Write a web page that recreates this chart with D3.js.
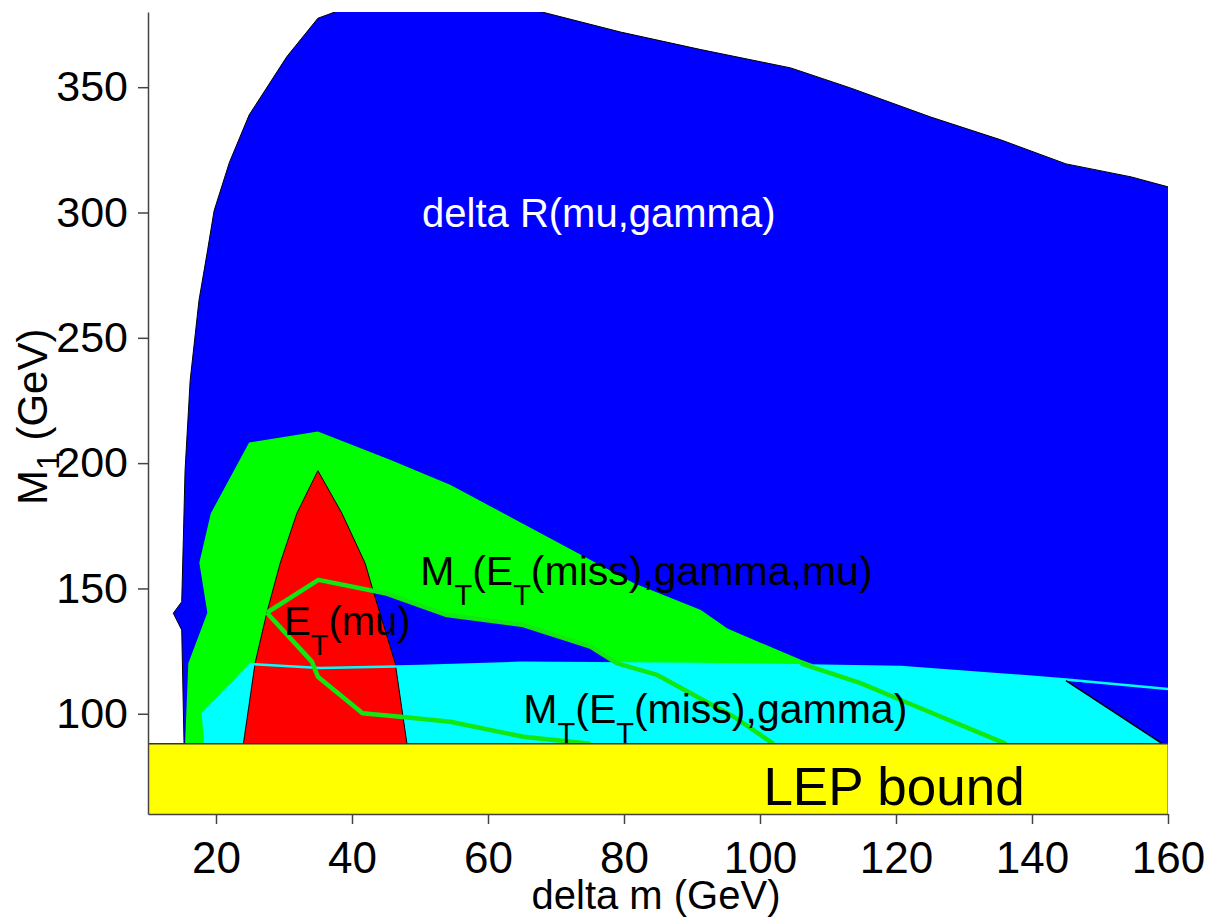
<!DOCTYPE html>
<html>
<head>
<meta charset="utf-8">
<script src="https://cdn.jsdelivr.net/npm/d3@7"></script>
<style>
  html, body { margin: 0; padding: 0; background: #fff; }
  svg { display: block; font-family: "Liberation Sans", Arial, Helvetica, sans-serif; }
</style>
</head>
<body>
<svg id="chart" width="1218" height="923"></svg>
<script>
// Sensitivity regions in the (delta m, M1) plane, in GeV
const xTicks = [20, 40, 60, 80, 100, 120, 140, 160];
const yTicks = [100, 150, 200, 250, 300, 350];
const lepBound = 88;

// delta R(mu,gamma) region
const deltaR = [
  [15.3, 88], [14.96, 133.4], [13.72, 140.1], [14.96, 144.7], [15.2, 170],
  [15.45, 197], [16.2, 233], [17.5, 265], [18.77, 285.1], [19.72, 300.7],
  [21.97, 320], [24.87, 338.9], [30.42, 362.2], [34.98, 377.5], [39.5, 382],
  [66.5, 381], [79.5, 372], [91.3, 365], [104.5, 357.7], [113.3, 349.7],
  [125.1, 338.1], [135.4, 329], [145, 319.4], [154.6, 314.2], [161, 309.5],
  [161, 88]
];

// M_T(E_T(miss),gamma,mu) region
const mtGammaMu = [
  [15.45, 88], [15.93, 120.1], [18.73, 140.3], [17.55, 160.2], [19.23, 179.9],
  [24.87, 208.2], [34.98, 212.6], [45.6, 201.3], [54.5, 191.3], [69.6, 169.3],
  [81.4, 152.2], [91.3, 141.4], [95.2, 134], [106, 121.5], [107.7, 119.9],
  [107.7, 117], [79, 117], [79, 120.1], [75.07, 126.8], [65.2, 135.4],
  [53.97, 139.4], [44.89, 148.1], [35.07, 153.4], [27.47, 140.3],
  [25.75, 120.2], [24.03, 88]
];

// M_T(E_T(miss),gamma) region
const mtGamma = [
  [18.24, 88], [17.9, 100.4], [24.87, 119.9], [35.32, 118.3], [50.04, 119.1],
  [64.76, 120.3], [91.3, 119.9], [120.7, 118.7], [135.4, 115.7], [145, 113.7],
  [160.2, 109.8], [145, 113.2], [159.2, 88]
];
const mtGammaTop = mtGamma.slice(2, 11);
const mtGammaEdge = [[145, 113.2], [159.2, 88]];

// E_T(mu) region
const etMu = [
  [24.03, 88], [25.75, 120.2], [27.47, 140.3], [29.43, 160], [31.89, 180],
  [34.98, 197], [38.51, 180], [41.94, 160], [42.93, 150.7], [46.36, 120.1],
  [48.08, 88]
];

// Contour lines
const lineA = [
  [27.47, 140.3], [35.07, 153.4], [44.89, 148.1], [53.97, 139.4], [65.2, 135.4],
  [75.07, 126.8], [79.0, 120.1], [84.89, 115.5], [96.12, 98.8], [102.0, 88]
];
const lineB = [[105.98, 120.1], [114.8, 112.2], [120.7, 105.5], [136.2, 88]];
const lineC = [
  [27.47, 140.3], [34.1, 120.8], [34.98, 114.8], [41.55, 100.2], [47.1, 98.8],
  [54.46, 96.8], [65.2, 90.8], [75.07, 88]
];

const svg = d3.select("#chart");
const plotL = 148, plotR = 1168, plotT = 12, plotB = 814;
const x = d3.scaleLinear().domain([10, 160]).range([plotL, plotR]);
const y = d3.scaleLinear().domain([60, 380]).range([plotB, plotT]);

svg.append("clipPath").attr("id", "plotclip")
  .append("rect").attr("x", plotL).attr("y", plotT)
  .attr("width", plotR - plotL).attr("height", plotB - plotT);

const g = svg.append("g").attr("clip-path", "url(#plotclip)");
const line = d3.line().x(d => x(d[0])).y(d => y(d[1]));
const area = pts => line(pts) + "Z";

g.append("path").attr("d", area(deltaR)).attr("fill", "#0000ff")
  .attr("stroke", "#000").attr("stroke-width", 1);
g.append("path").attr("d", area(mtGammaMu)).attr("fill", "#00ff00");
g.append("path").attr("d", area(mtGamma)).attr("fill", "#00ffff");
g.append("path").attr("d", area(etMu)).attr("fill", "#ff0000")
  .attr("stroke", "#000").attr("stroke-width", 1);
g.append("path").attr("d", line(mtGammaTop)).attr("fill", "none")
  .attr("stroke", "#00ffff").attr("stroke-width", 2.5);
g.append("path").attr("d", line(mtGammaEdge)).attr("fill", "none")
  .attr("stroke", "#000").attr("stroke-width", 1.5);

[lineA, lineB, lineC].forEach(pts => {
  g.append("path").attr("d", line(pts)).attr("fill", "none")
    .attr("stroke", "#10e810").attr("stroke-width", 4.5)
    .attr("stroke-linejoin", "round");
});

// LEP exclusion band
g.append("rect").attr("x", x(10)).attr("y", y(lepBound))
  .attr("width", x(160) - x(10)).attr("height", y(60) - y(lepBound))
  .attr("fill", "#ffff00");
g.append("line").attr("x1", x(10)).attr("x2", x(160))
  .attr("y1", y(lepBound)).attr("y2", y(lepBound))
  .attr("stroke", "#333").attr("stroke-width", 1.5);
g.append("line").attr("x1", x(160)).attr("x2", x(160))
  .attr("y1", y(lepBound)).attr("y2", y(60))
  .attr("stroke", "#555").attr("stroke-width", 1);

// Axes
const xAxis = svg.append("g").attr("transform", `translate(0,${plotB})`)
  .call(d3.axisBottom(x).tickValues(xTicks).tickSize(10).tickSizeOuter(0).tickPadding(18));
const yAxis = svg.append("g").attr("transform", `translate(${plotL},0)`)
  .call(d3.axisLeft(y).tickValues(yTicks).tickSize(10).tickSizeOuter(0).tickPadding(10));
[xAxis, yAxis].forEach(a => {
  a.select(".domain").attr("stroke", "#444").attr("stroke-width", 1.5);
  a.selectAll(".tick line").attr("stroke", "#444").attr("stroke-width", 1.5);
  a.selectAll(".tick text").attr("fill", "#000")
    .style("font-family", "'Liberation Sans', Arial, sans-serif");
});
xAxis.selectAll(".tick text").style("font-size", "44px");
yAxis.selectAll(".tick text").style("font-size", "43px");

// Axis titles
svg.append("text").attr("x", (plotL + plotR) / 2 - 2).attr("y", 909)
  .attr("text-anchor", "middle").style("font-size", "40px").text("delta m (GeV)");
const yt = svg.append("text").attr("transform", "translate(47,505) rotate(-90)")
  .style("font-size", "42px");
yt.append("tspan").text("M");
yt.append("tspan").attr("dy", 12).style("font-size", "32px").text("1");
yt.append("tspan").attr("dy", -12).text(" (GeV)");

// Region labels
function subLabel(xv, yv, parts, size, color) {
  const t = svg.append("text").attr("x", x(xv)).attr("y", y(yv))
    .style("font-size", size + "px").attr("fill", color);
  let shifted = false;
  parts.forEach(p => {
    const s = t.append("tspan").text(p.t);
    if (p.sub && !shifted) { s.attr("dy", 20).style("font-size", "29px"); shifted = true; }
    else if (!p.sub && shifted) { s.attr("dy", -20); shifted = false; }
  });
  return t;
}
subLabel(50.3, 294.2, [{t: "delta R(mu,gamma)"}], 40, "#fff");
subLabel(50.04, 151.4, [{t: "M"}, {t: "T", sub: true}, {t: "(E"}, {t: "T", sub: true},
  {t: "(miss),gamma,mu)"}], 41, "#000");
subLabel(30.0, 131.4, [{t: "E"}, {t: "T", sub: true}, {t: "(mu)"}], 40, "#000");
subLabel(65.2, 96.3, [{t: "M"}, {t: "T", sub: true}, {t: "(E"}, {t: "T", sub: true},
  {t: "(miss),gamma)"}], 41, "#000");
subLabel(100.5, 63.6, [{t: "LEP bound"}], 53, "#000");
</script>
</body>
</html>
